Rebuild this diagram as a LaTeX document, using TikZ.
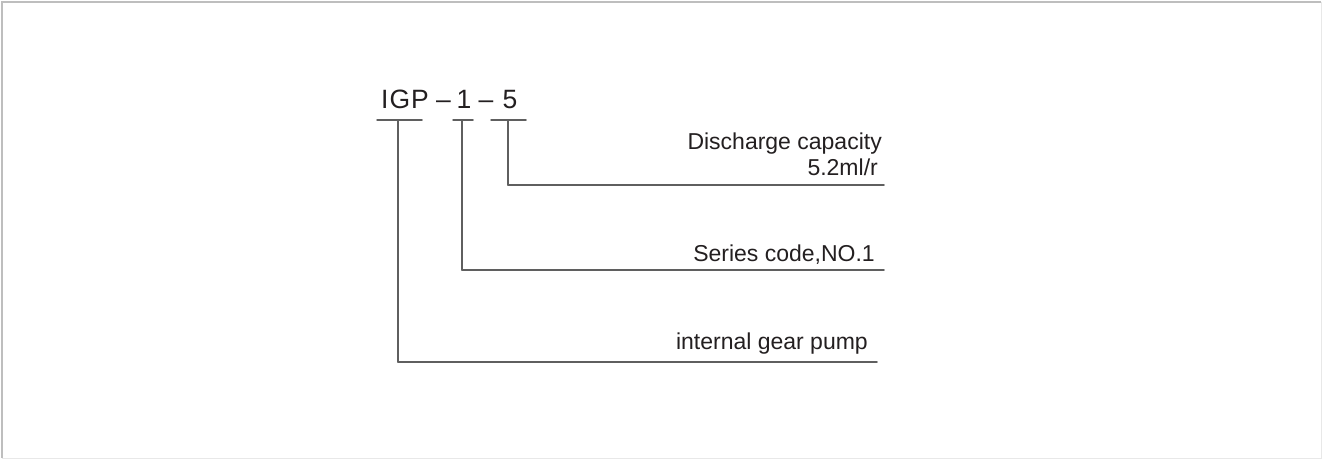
\documentclass[tikz,border=0pt]{standalone}
\usepackage{fontspec}
\setmainfont{Liberation Sans}
\usepackage{tikz}
\usepackage{tkz-euclide}
\usepackage{xcolor}
\usetikzlibrary{arrows, calc}

\definecolor{linegray}{RGB}{95,95,95}
\definecolor{inkgray}{RGB}{35,31,32}
\definecolor{framedark}{RGB}{190,190,190}
\definecolor{framelight}{RGB}{232,232,232}

\begin{document}
\begin{tikzpicture}[x=1pt,y=-1pt,
    codetxt/.style={inner sep=0pt, text=inkgray, anchor=base, font=\fontsize{26.5}{30}\selectfont},
    lbl/.style={inner sep=0pt, text=inkgray, anchor=base east, font=\fontsize{23}{27}\selectfont}]
	    \useasboundingbox (0,0) rectangle (1322,459);
	    \draw[framedark, line width=1.5pt] (2,458) -- (2,2) -- (1321,2);
	    \draw[framelight, line width=1pt] (1321,2) -- (1321,458) -- (2,458);

	    % model code
	    \node[codetxt] (c_1) at (405,108) {I\kern1ptG\kern1ptP};
	    \node[codetxt] (d_1) at (443.5,108) {--};
	    \node[codetxt] (c_2) at (464,108) {1};
	    \node[codetxt] (d_2) at (486,108) {--};
	    \node[codetxt] (c_3) at (510,108) {5};

	    \tkzDefPoint(377,120){a_1}
	    \tkzDefPoint(422,120){a_2}
	    \tkzDefPoint(398,120){a_3}
	    \tkzDefPoint(453,120){b_1}
	    \tkzDefPoint(473,120){b_2}
	    \tkzDefPoint(462,120){b_3}
	    \tkzDefPoint(491,120){e_1}
	    \tkzDefPoint(526,120){e_2}
	    \tkzDefPoint(508,120){e_3}

	    \tkzDefPoint(398,362){v_1}
	    \tkzDefPoint(877,362){w_1}
	    \tkzDefPoint(462,270){v_2}
	    \tkzDefPoint(884,270){w_2}
	    \tkzDefPoint(508,185){v_3}
	    \tkzDefPoint(884,185){w_3}

	    \tkzDrawSegments[color=linegray, line width=1.5pt](a_1,a_2 b_1,b_2 e_1,e_2)
	    \tkzDrawSegments[color=linegray, line width=1.5pt](a_3,v_1 v_1,w_1)
	    \tkzDrawSegments[color=linegray, line width=1.5pt](b_3,v_2 v_2,w_2)
	    \tkzDrawSegments[color=linegray, line width=1.5pt](e_3,v_3 v_3,w_3)

	    % labels
	    \node[lbl] (l_1) at (882,149) {Discharge capacity};
	    \node[lbl] (l_2) at (878,175) {5.2ml/r};
	    \node[lbl] (l_3) at (875,261) {Series code,NO.1};
	    \node[lbl] (l_4) at (868,349) {internal gear pump};
		\end{tikzpicture}
\end{document}
